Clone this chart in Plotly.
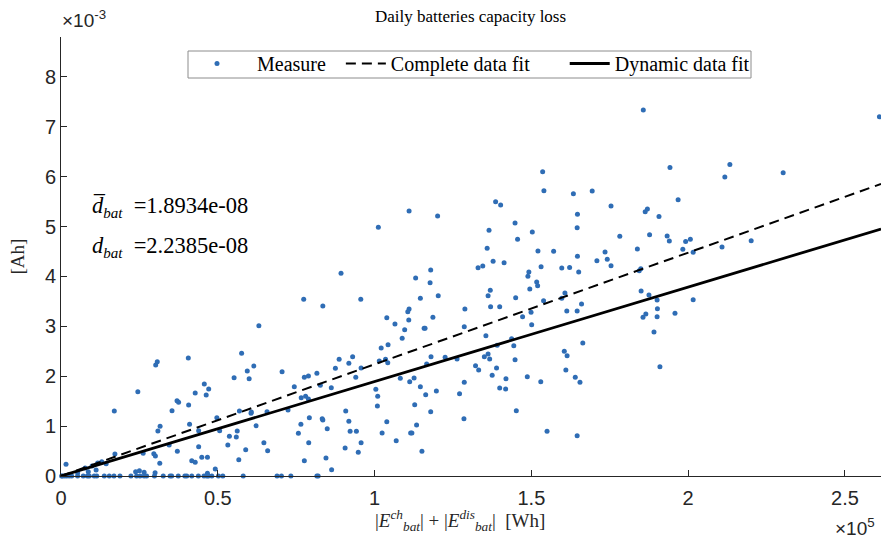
import plotly.graph_objects as go

# Measured daily capacity loss. x in units of 1e5 Wh, y in units of 1e-3 Ah
x_measure = [
    # points lying on y = 0
    0.002, 0.004, 0.011, 0.018, 0.026, 0.034, 0.053, 0.071, 0.084, 0.090,
    0.106, 0.114, 0.138, 0.154, 0.169, 0.188, 0.223, 0.241, 0.252, 0.265,
    0.273, 0.298, 0.326, 0.348, 0.353, 0.374, 0.395, 0.401, 0.417, 0.438,
    0.456, 0.465, 0.470, 0.481, 0.502, 0.516, 0.581, 0.689, 0.703, 0.733,
    0.816, 0.820,
    # small values
    0.087, 0.238, 0.250, 0.265, 0.300, 0.467, 0.112, 0.053, 0.492, 0.863,
    0.130, 0.099, 0.077, 0.117,
    # 0 - 0.65
    0.631, 0.576, 0.594, 0.615, 0.600, 0.552, 0.406, 0.307, 0.302, 0.245,
    0.457, 0.471, 0.428, 0.463, 0.370, 0.375, 0.407, 0.354, 0.170, 0.569,
    0.607, 0.606, 0.497, 0.410, 0.316, 0.622, 0.309, 0.439, 0.506, 0.562,
    0.537, 0.559, 0.345, 0.439, 0.647, 0.532, 0.371, 0.262, 0.296, 0.301,
    0.172, 0.589, 0.449, 0.467, 0.417, 0.428, 0.567, 0.315, 0.144, 0.016,
    # 0.65 - 1.29
    1.110, 1.201, 1.012, 0.893, 1.179, 1.131, 1.177, 1.203, 1.146, 0.774,
    0.956, 0.835, 1.288, 1.110, 1.106, 1.039, 1.186, 1.109, 1.065, 1.286,
    1.158, 1.161, 1.096, 1.088, 1.043, 1.021, 0.930, 0.887, 1.180, 1.225,
    1.263, 0.918, 0.875, 0.957, 1.035, 1.042, 1.015, 1.166, 0.705, 0.816,
    0.776, 0.789, 0.940, 1.082, 1.126, 1.112, 1.286, 0.744, 0.827, 0.862,
    1.146, 1.004, 1.197, 0.766, 0.780, 0.789, 1.010, 1.163, 1.271, 0.724,
    0.657, 0.908, 1.009, 1.128, 1.179, 0.792, 0.833, 0.835, 0.918, 1.039,
    1.285, 0.765, 0.849, 1.134, 0.757, 0.922, 0.942, 1.024, 1.115, 1.119,
    0.790, 0.957, 1.069, 0.659, 0.906, 0.948, 1.151, 0.776, 0.845,
    # 1.29 - 1.95
    1.857, 1.942, 1.536, 1.540, 1.634, 1.694, 1.386, 1.402, 1.754, 1.863,
    1.870, 1.647, 1.907, 1.448, 1.646, 1.365, 1.503, 1.877, 1.782, 1.933,
    1.940, 1.456, 1.359, 1.521, 1.571, 1.735, 1.838, 1.378, 1.413, 1.709,
    1.742, 1.647, 1.330, 1.345, 1.531, 1.597, 1.622, 1.651, 1.754, 1.492,
    1.489, 1.849, 1.844, 1.517, 1.520, 1.369, 1.362, 1.495, 1.607, 1.450,
    1.597, 1.539, 1.850, 1.875, 1.901, 1.370, 1.399, 1.499, 1.472, 1.613,
    1.646, 1.660, 1.865, 1.856, 1.902, 1.901, 1.501, 1.355, 1.437, 1.444,
    1.391, 1.891, 1.664, 1.350, 1.362, 1.367, 1.448, 1.605, 1.614, 1.322,
    1.332, 1.389, 1.375, 1.419, 1.487, 1.610, 1.910, 1.530, 1.640, 1.655,
    1.399, 1.418, 1.452, 1.550, 1.646,
    # 1.95 - 2.61
    2.610, 2.133, 2.117, 2.303, 1.968, 2.007, 1.992, 1.983, 2.016, 2.108,
    2.201, 1.958, 2.016,
]
y_measure = [
    0, 0, 0, 0, 0, 0, 0, 0, 0, 0,
    0, 0, 0, 0, 0, 0, 0, 0, 0, 0,
    0, 0, 0, 0, 0, 0, 0, 0, 0, 0,
    0, 0, 0, 0, 0, 0, 0, 0, 0, 0,
    0, 0,
    0.086, 0.086, 0.106, 0.074, 0.066, 0.054, 0.120, 0.066, 0.140, 0.126,
    0.287, 0.200, 0.160, 0.261,
    3.012, 2.459, 2.104, 2.204, 1.950, 1.970, 2.365, 2.291, 2.224, 1.689,
    1.844, 1.743, 1.663, 1.623, 1.509, 1.477, 1.423, 1.309, 1.303, 1.303,
    1.283, 1.257, 1.168, 1.036, 0.996, 1.008, 0.902, 0.908, 0.908, 0.902,
    0.796, 0.782, 0.621, 0.587, 0.667, 0.621, 0.495, 0.455, 0.447, 0.401,
    0.441, 0.527, 0.375, 0.375, 0.307, 0.275, 0.327, 0.255, 0.246, 0.234,
    5.311, 5.210, 4.984, 4.062, 4.128, 3.968, 3.874, 3.613, 3.561, 3.541,
    3.541, 3.407, 3.347, 3.347, 3.293, 3.172, 3.180, 3.126, 3.046, 2.992,
    2.960, 2.960, 2.932, 2.760, 2.631, 2.565, 2.391, 2.339, 2.391, 2.379,
    2.345, 2.259, 2.158, 2.164, 2.339, 2.271, 2.305, 2.244, 2.090, 2.058,
    1.978, 2.004, 1.978, 1.958, 1.964, 1.890, 1.878, 1.790, 1.818, 1.770,
    1.790, 1.737, 1.703, 1.569, 1.597, 1.543, 1.597, 1.629, 1.649, 1.323,
    1.289, 1.303, 1.403, 1.429, 1.289, 1.168, 1.148, 1.122, 1.096, 1.088,
    1.148, 1.036, 0.948, 1.022, 0.856, 0.896, 0.896, 0.862, 0.862, 0.862,
    0.667, 0.667, 0.707, 0.507, 0.561, 0.475, 0.495, 0.307, 0.361,
    7.335, 6.186, 6.098, 5.717, 5.657, 5.711, 5.497, 5.431, 5.411, 5.297,
    5.351, 5.245, 5.204, 5.070, 4.976, 4.924, 4.890, 4.836, 4.804, 4.810,
    4.709, 4.744, 4.563, 4.509, 4.503, 4.489, 4.549, 4.303, 4.275, 4.315,
    4.343, 4.403, 4.174, 4.208, 4.194, 4.168, 4.182, 4.088, 4.214, 4.088,
    4.002, 4.154, 4.114, 3.888, 3.814, 3.721, 3.613, 3.747, 3.667, 3.573,
    3.561, 3.513, 3.707, 3.627, 3.527, 3.393, 3.393, 3.281, 3.192, 3.307,
    3.307, 3.447, 3.246, 3.180, 3.353, 3.192, 3.032, 2.812, 2.751, 2.611,
    2.619, 2.886, 2.665, 2.391, 2.445, 2.345, 2.331, 2.499, 2.411, 2.210,
    2.124, 2.164, 2.018, 1.950, 1.990, 2.124, 2.190, 1.890, 1.978, 1.878,
    1.764, 1.743, 1.309, 0.896, 0.808,
    7.200, 6.246, 5.992, 6.078, 5.537, 4.744, 4.703, 4.543, 4.483, 4.589,
    4.715, 3.261, 3.533,
]

# Fit coefficients [Ah/Wh]
d_dynamic = 1.8934e-08   # d-bar, dynamic data fit
d_complete = 2.2385e-08  # d, complete data fit

x_max = 2.615  # x 1e5 Wh
y_max = 8.8    # x 1e-3 Ah
x_fit = [0, x_max]
scale = 1e5 * 1e3  # convert slope to plotted units
y_complete = [d_complete * scale * v for v in x_fit]
y_dynamic = [d_dynamic * scale * v for v in x_fit]

x_ticks = [0, 0.5, 1, 1.5, 2, 2.5]
x_ticktext = ["0", "0.5", "1", "1.5", "2", "2.5"]
y_ticks = [0, 1, 2, 3, 4, 5, 6, 7, 8]

SERIF = "Liberation Serif, DejaVu Serif, serif"
SANS = "Liberation Sans, Arial, sans-serif"
AXC = "#262626"
NB = "\u00a0"
W, H = 881, 541
L, T, B = 61, 37, 65
PW, PH = W - L, H - T - B


def px(xp):
    return (xp - L) / PW


def py(yp):
    return (H - B - yp) / PH


fig = go.Figure()
fig.add_trace(go.Scatter(
    x=x_measure, y=y_measure, mode="markers", name=NB * 3 + "Measure" + NB * 2,
    marker=dict(size=5, color="#2f6db5"), cliponaxis=False,
))
fig.add_trace(go.Scatter(
    x=x_fit, y=y_complete, mode="lines", name="Complete data fit" + NB * 6,
    line=dict(color="black", width=2, dash="10px,6px"),
))
fig.add_trace(go.Scatter(
    x=x_fit, y=y_dynamic, mode="lines", name="Dynamic data fit",
    line=dict(color="black", width=2.8),
))

fig.update_layout(
    width=W, height=H,
    margin=dict(l=L, r=0, t=T, b=B, pad=0),
    plot_bgcolor="white", paper_bgcolor="white",
    showlegend=True,
    legend=dict(
        orientation="h", x=px(473.5), xanchor="center", y=py(63.5), yanchor="middle",
        borderwidth=0, bgcolor="rgba(0,0,0,0)",
        font=dict(family=SERIF, size=20, color="black"),
        itemwidth=40, tracegroupgap=0,
    ),
    title=dict(text="Daily batteries capacity loss", x=470.5 / W, xanchor="center",
               y=1 - 16 / H, yanchor="middle",
               font=dict(family=SERIF, size=17, color="black")),
    xaxis=dict(
        range=[0, x_max], tickvals=x_ticks, ticktext=x_ticktext,
        showgrid=False, zeroline=False, showline=True, linecolor=AXC, linewidth=1,
        ticks="inside", ticklen=6, tickcolor=AXC, ticklabelstandoff=4,
        tickfont=dict(family=SANS, size=20, color=AXC),
    ),
    yaxis=dict(
        range=[0, y_max], tickvals=y_ticks,
        showgrid=False, zeroline=False, showline=True, linecolor=AXC, linewidth=1,
        ticks="inside", ticklen=6, tickcolor=AXC,
        tickfont=dict(family=SANS, size=20, color=AXC),
    ),
    shapes=[dict(type="rect", xref="paper", yref="paper",
                 x0=px(188), x1=px(751), y0=py(78), y1=py(51),
                 line=dict(color="#8c8c8c", width=1), fillcolor="white", layer="below")],
)

sub = '<sub><span style="font-size:15px"><i>bat</i></span></sub>'
annotations = [
    dict(text="|<i>E</i><sup><i>ch</i></sup><sub><i>bat</i></sub>| + |<i>E</i><sup><i>dis</i></sup><sub><i>bat</i></sub>|  [Wh]",
         xref="paper", yref="paper", x=px(460), y=py(520),
         xanchor="center", yanchor="middle", showarrow=False,
         font=dict(family=SERIF, size=19, color=AXC)),
    dict(text="[Ah]", xref="paper", yref="paper", x=px(17), y=0.5,
         xanchor="center", yanchor="middle", textangle=-90, showarrow=False,
         font=dict(family=SERIF, size=19, color=AXC)),
    dict(text="×10<sup>5</sup>", xref="paper", yref="paper", x=px(855),
         y=py(527), xanchor="center", yanchor="middle", showarrow=False,
         font=dict(family=SANS, size=19, color=AXC)),
    dict(text="×10<sup>-3</sup>", xref="paper", yref="paper", x=px(84),
         y=py(19), xanchor="center", yanchor="middle", showarrow=False,
         font=dict(family=SANS, size=19, color=AXC)),
    dict(text="<i>d̅</i>" + sub + NB * 2 + "=1.8934e-08", xref="paper", yref="paper",
         x=px(90), y=py(207), xanchor="left", yanchor="middle",
         showarrow=False, font=dict(family=SERIF, size=22.5, color="black")),
    dict(text="<i>d</i>" + sub + NB * 2 + "=2.2385e-08", xref="paper", yref="paper",
         x=px(90), y=py(247), xanchor="left", yanchor="middle",
         showarrow=False, font=dict(family=SERIF, size=22.5, color="black")),
]
fig.update_layout(annotations=annotations)

fig.write_html(
    "out.html",
    config={"displayModeBar": False},
    post_script="document.body.style.margin='0px';"
                "document.documentElement.style.overflow='hidden';"
                "document.body.style.overflow='hidden';",
)
